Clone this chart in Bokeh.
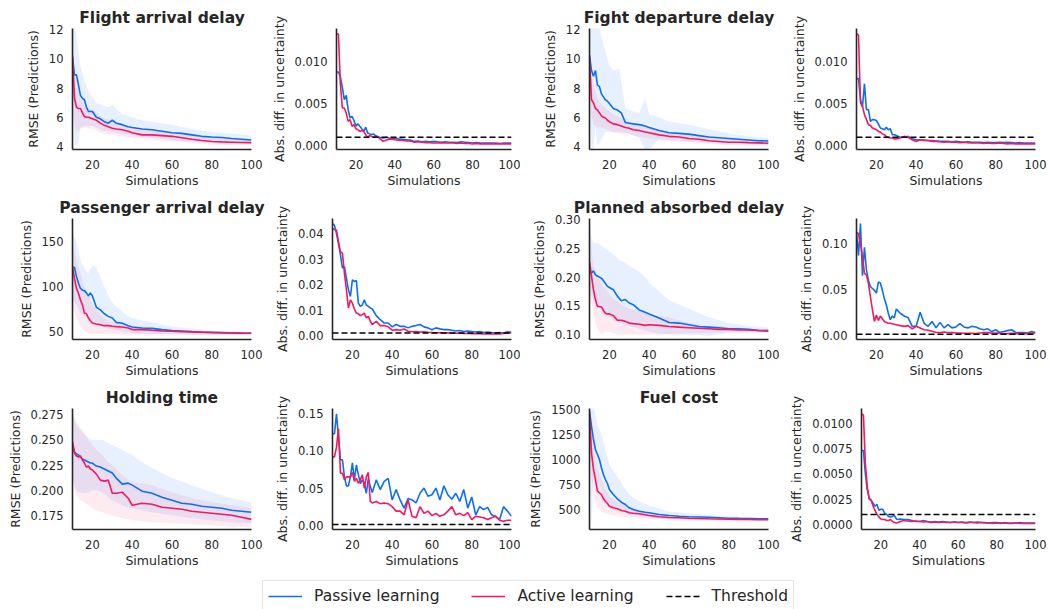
from bokeh.plotting import figure
from bokeh.layouts import column, row
from bokeh.models import Range1d, FixedTicker, NumeralTickFormatter, Span, Legend, LegendItem
from bokeh.embed import file_html
from bokeh.resources import INLINE

# ---------------- data ----------------
x_line = [10, 11, 12, 13, 14, 15, 16, 17, 18, 19, 20, 22, 24, 26, 28, 30, 32, 35, 38, 40, 45,
          50, 55, 60, 65, 70, 75, 80, 85, 90, 95, 100]
x_band = [10, 11, 12, 13, 14, 16, 18, 20, 22, 25, 28, 30, 35, 38, 40, 45, 50, 60, 70, 80, 90, 100]
x_unc = list(range(10, 31)) + list(range(32, 101, 2))
x_ticks = [20, 40, 60, 80, 100]
threshold = 0.001

titles = ["Flight arrival delay", "Fight departure delay", "Passenger arrival delay",
          "Planned absorbed delay", "Holding time", "Fuel cost"]
series_names = ["Passive learning", "Active learning", "Threshold"]

# Flight arrival delay
arr_p = [10.1, 8.9, 8.9, 8.2, 7.5, 7.3, 7.2, 6.7, 6.4, 6.4, 6.4,
         6.0, 5.9, 5.7, 5.6, 5.8, 5.6, 5.5, 5.35, 5.3, 5.2,
         5.15, 5.05, 4.95, 4.9, 4.8, 4.7, 4.65, 4.62, 4.55, 4.5, 4.45]
arr_a = [10.2, 7.3, 6.7, 6.6, 6.6, 6.3, 6.05, 6.0, 6.0, 5.95, 5.9,
         5.8, 5.6, 5.45, 5.35, 5.25, 5.2, 5.15, 5.05, 4.95, 4.8,
         4.8, 4.75, 4.7, 4.6, 4.5, 4.42, 4.35, 4.32, 4.3, 4.28, 4.27]
arr_p_lo = [8.0, 4.2, 4.0, 4.3, 5.3, 5.4, 5.4, 5.4, 5.3, 5.1, 5.05,
            5.0, 4.85, 4.8, 4.75, 4.65, 4.6, 4.45, 4.35, 4.3, 4.25, 4.2]
arr_p_hi = [13, 12.5, 11.5, 10.5, 9.5, 8.5, 7.8, 7.3, 7.0, 6.8, 6.7,
            6.85, 6.2, 6.1, 6.0, 5.8, 5.7, 5.5, 5.2, 5.0, 4.9, 4.75]
arr_a_lo = [9.0, 5.5, 5.0, 5.1, 5.2, 5.3, 5.25, 5.2, 5.1, 4.9, 4.85,
            4.8, 4.7, 4.65, 4.6, 4.5, 4.45, 4.35, 4.25, 4.15, 4.1, 4.1]
arr_a_hi = [10.5, 9.0, 8.0, 7.6, 7.3, 6.8, 6.6, 6.5, 6.3, 6.0, 5.8,
            5.7, 5.5, 5.35, 5.3, 5.2, 5.1, 4.95, 4.75, 4.6, 4.5, 4.45]
arr_unc_p = [0.0088, 0.0088, 0.0082, 0.0070, 0.0055, 0.0060, 0.0043, 0.0033, 0.0035, 0.0030, 0.0023,
             0.0026, 0.0023, 0.0020, 0.0017, 0.0022, 0.0015, 0.0014, 0.0013, 0.0014, 0.0012,
             0.0010, 0.0009, 0.0010, 0.0008, 0.0009,
             0.0008, 0.00075, 0.0007, 0.00065, 0.0005,
             0.00055, 0.00045, 0.0005, 0.00045, 0.0005,
             0.00045, 0.0004, 0.00045, 0.0004, 0.0004,
             0.00035, 0.00045, 0.0004, 0.00035, 0.0003,
             0.00035, 0.0003, 0.0003, 0.0003, 0.0003,
             0.0003, 0.00025, 0.0003, 0.0003, 0.0003]
arr_unc_a = [0.0134, 0.0133, 0.0074, 0.0045, 0.0045, 0.0039, 0.0029, 0.0031, 0.0023, 0.0025, 0.0020,
             0.0019, 0.0017, 0.0018, 0.0017, 0.0013, 0.0010, 0.0012, 0.0011, 0.0010, 0.0011,
             0.0009, 0.0005, 0.0007, 0.0008, 0.0007,
             0.00065, 0.0006, 0.00055, 0.00055, 0.0004,
             0.00045, 0.0004, 0.00035, 0.00035, 0.0003,
             0.0003, 0.00035, 0.0003, 0.0003, 0.0003,
             0.00025, 0.0003, 0.00025, 0.00025, 0.0002,
             0.00025, 0.0002, 0.0002, 0.0002, 0.0002,
             0.0002, 0.0002, 0.0002, 0.0002, 0.0002]

# Fight departure delay
dep_p = [10.25, 9.2, 8.8, 9.2, 8.2, 8.1, 7.6, 7.4, 7.2, 7.1, 6.95,
         6.6, 6.5, 6.3, 5.65, 5.6, 5.55, 5.5, 5.4, 5.3, 5.1,
         4.95, 4.9, 4.85, 4.75, 4.65, 4.6, 4.55, 4.5, 4.45, 4.4, 4.38]
dep_a = [10.1, 7.2, 7.0, 6.6, 6.5, 6.3, 6.1, 6.0, 5.95, 5.8, 5.7,
         5.55, 5.5, 5.4, 5.3, 5.25, 5.15, 5.1, 5.0, 4.95, 4.8,
         4.7, 4.65, 4.55, 4.5, 4.4, 4.35, 4.3, 4.3, 4.27, 4.25, 4.23]
dep_p_lo = [8.0, 3.8, 3.8, 5.5, 4.0, 4.5, 5.0, 5.0, 5.0, 5.0, 4.95,
            4.9, 4.6, 3.8, 3.8, 4.5, 4.45, 4.35, 4.3, 4.25, 4.2, 4.15]
dep_p_hi = [13, 13, 13, 13, 12.5, 11.5, 10.5, 9.5, 9.2, 9.3, 6.6,
            6.5, 6.3, 7.3, 6.2, 6.0, 5.7, 5.5, 5.2, 4.9, 4.7, 4.6]
dep_a_lo = [9.5, 6.0, 5.5, 5.4, 5.3, 5.3, 5.2, 5.1, 5.0, 4.9, 4.85,
            4.8, 4.65, 4.6, 4.55, 4.45, 4.4, 4.3, 4.2, 4.1, 4.05, 4.05]
dep_a_hi = [10.5, 9.0, 8.2, 7.7, 7.3, 6.9, 6.6, 6.4, 6.2, 6.0, 5.8,
            5.7, 5.5, 5.35, 5.3, 5.15, 5.0, 4.85, 4.7, 4.55, 4.5, 4.45]
dep_unc_p = [0.0080, 0.0080, 0.0055, 0.0046, 0.0074, 0.0043, 0.0043, 0.0029, 0.0031, 0.0031, 0.0030,
             0.0026, 0.0021, 0.0020, 0.0019, 0.0022, 0.0019, 0.0020, 0.0013, 0.0013, 0.0012,
             0.0010, 0.0010, 0.0011, 0.0008, 0.0007,
             0.0007, 0.00065, 0.0006, 0.0006, 0.00055,
             0.0005, 0.0005, 0.0005, 0.00045, 0.0005,
             0.00045, 0.0004, 0.00045, 0.0004, 0.0004,
             0.0004, 0.00035, 0.0004, 0.00035, 0.00035,
             0.0004, 0.00035, 0.0004, 0.00035, 0.0003,
             0.00035, 0.0003, 0.0003, 0.0003, 0.0003]
dep_unc_a = [0.0134, 0.0132, 0.0051, 0.0047, 0.0037, 0.0031, 0.0025, 0.0024, 0.0021, 0.0020, 0.0019,
             0.0017, 0.0016, 0.0014, 0.0013, 0.0011, 0.0010, 0.0009, 0.0009, 0.0008, 0.0008,
             0.0009, 0.0011, 0.0010, 0.0007, 0.0005,
             0.0007, 0.0006, 0.0006, 0.0005, 0.0005,
             0.00045, 0.0004, 0.00045, 0.0004, 0.0004,
             0.00035, 0.0004, 0.00035, 0.0003, 0.0003,
             0.0003, 0.00025, 0.0003, 0.00025, 0.00025,
             0.0003, 0.00025, 0.0002, 0.00025, 0.0002,
             0.0002, 0.0002, 0.0002, 0.0002, 0.0002]

# Passenger arrival delay
pax_p = [122, 121.5, 111, 103.7, 98, 96, 95.5, 93, 89.6, 93, 89.6,
         77, 74, 69.6, 66.7, 64.8, 60, 59, 56.3, 54.8, 53.7,
         53.3, 51.9, 50.7, 50.4, 49.6, 49.2, 48.9, 48.5, 48.1, 47.9, 47.8]
pax_a = [122, 109, 98, 92.6, 85, 79.6, 70.4, 69.6, 64.8, 61.9, 59.3,
         58.1, 57.4, 56.3, 56.3, 55.6, 55.2, 54.8, 53.7, 51.9, 51.9,
         51.1, 50.4, 50.0, 49.6, 49.3, 48.9, 48.5, 48.3, 48.1, 47.9, 47.8]
pax_p_lo = [85, 83, 80, 75, 70, 68, 65, 62, 60, 55, 53,
            52, 50, 49, 48, 47.5, 47, 47, 46.5, 46.5, 46, 46]
pax_p_hi = [160, 155, 150, 140, 130, 120, 115, 124, 122, 105, 90,
            82, 72, 67, 65, 62, 60, 55, 53, 51, 50, 49]
pax_a_lo = [80, 72, 65, 60, 55, 50, 48, 47, 47, 47, 47,
            47, 46.5, 46.5, 46.5, 46.5, 46.5, 46.5, 46, 46, 46, 46]
pax_a_hi = [150, 140, 130, 122, 115, 100, 90, 80, 74, 66, 62,
            60, 58, 56, 55, 54, 53, 52, 51, 50, 49.5, 49]
pax_unc_p = [0.0439, 0.0432, 0.040, 0.036, 0.0316, 0.0264, 0.027, 0.0225, 0.018, 0.0153, 0.0218,
             0.0212, 0.0216, 0.0127, 0.0114, 0.012, 0.014, 0.012, 0.0114, 0.0108, 0.0104,
             0.0078, 0.0062, 0.0049, 0.0049, 0.0034,
             0.0043, 0.0036, 0.0036, 0.003, 0.0036,
             0.0039, 0.0043, 0.0034, 0.003, 0.0023,
             0.003, 0.0026, 0.0023, 0.0023, 0.0021,
             0.0018, 0.002, 0.0016, 0.0018, 0.0016,
             0.0014, 0.0016, 0.0012, 0.0014, 0.0012,
             0.0011, 0.0012, 0.001, 0.0015, 0.0013]
pax_unc_a = [0.042, 0.0416, 0.0413, 0.0368, 0.0329, 0.0322, 0.0244, 0.018, 0.0108, 0.014, 0.0127,
             0.0104, 0.0088, 0.0085, 0.0078, 0.0082, 0.0088, 0.0069, 0.0075, 0.0056, 0.0043,
             0.0056, 0.0039, 0.0039, 0.0034, 0.0021,
             0.0023, 0.0021, 0.0026, 0.0017, 0.0015,
             0.0016, 0.0014, 0.0015, 0.0013, 0.0012,
             0.0011, 0.0012, 0.001, 0.0011, 0.001,
             0.0009, 0.001, 0.0008, 0.0009, 0.0007,
             0.0008, 0.0007, 0.0006, 0.0007, 0.0006,
             0.0007, 0.0006, 0.0008, 0.001, 0.001]

# Planned absorbed delay
pad_p = [0.212, 0.207, 0.211, 0.204, 0.202, 0.200, 0.198, 0.194, 0.189, 0.184, 0.182,
         0.178, 0.167, 0.159, 0.161, 0.155, 0.152, 0.143, 0.139, 0.136, 0.129,
         0.121, 0.120, 0.117, 0.114, 0.113, 0.112, 0.110, 0.110, 0.109, 0.107, 0.106]
pad_a = [0.227, 0.202, 0.178, 0.161, 0.149, 0.149, 0.148, 0.142, 0.137, 0.136, 0.136,
         0.133, 0.125, 0.125, 0.123, 0.120, 0.119, 0.118, 0.116, 0.117, 0.116,
         0.114, 0.113, 0.112, 0.111, 0.110, 0.109, 0.109, 0.108, 0.108, 0.107, 0.107]
pad_p_lo = [0.19, 0.17, 0.16, 0.155, 0.15, 0.145, 0.14, 0.13, 0.125, 0.12, 0.117,
            0.115, 0.11, 0.107, 0.105, 0.102, 0.1, 0.1, 0.098, 0.103, 0.104, 0.103]
pad_p_hi = [0.30, 0.27, 0.26, 0.26, 0.26, 0.255, 0.25, 0.245, 0.24, 0.23, 0.225,
            0.22, 0.21, 0.2, 0.19, 0.175, 0.16, 0.145, 0.13, 0.12, 0.115, 0.112]
pad_a_lo = [0.17, 0.155, 0.14, 0.12, 0.11, 0.10, 0.105, 0.105, 0.102, 0.1, 0.1,
            0.1, 0.1, 0.1, 0.1, 0.1, 0.101, 0.102, 0.103, 0.104, 0.104, 0.104]
pad_a_hi = [0.28, 0.25, 0.22, 0.21, 0.2, 0.19, 0.18, 0.17, 0.162, 0.155, 0.148,
            0.145, 0.14, 0.137, 0.135, 0.132, 0.13, 0.12, 0.115, 0.113, 0.111, 0.11]
pad_unc_p = [0.1126, 0.087, 0.122, 0.065, 0.096, 0.071, 0.060, 0.053, 0.051, 0.049, 0.046,
             0.058, 0.057, 0.049, 0.040, 0.033, 0.024, 0.017, 0.021, 0.019, 0.0285,
             0.024, 0.021, 0.019, 0.0097, 0.0097,
             0.025, 0.013, 0.0097, 0.015, 0.008,
             0.014, 0.008, 0.0115, 0.008, 0.009,
             0.0126, 0.009, 0.008, 0.0097, 0.009,
             0.007, 0.006, 0.007, 0.004, 0.006,
             0.003, 0.004, 0.005, 0.006, 0.003,
             0.003, 0.003, 0.0025, 0.004, 0.003]
pad_unc_a = [0.1126, 0.111, 0.100, 0.0856, 0.0675, 0.0657, 0.0567, 0.042, 0.028, 0.015, 0.022,
             0.016, 0.021, 0.018, 0.015, 0.014, 0.013, 0.013, 0.0126, 0.012, 0.0115,
             0.0105, 0.0097, 0.0105, 0.007, 0.0097,
             0.008, 0.006, 0.0054, 0.0043, 0.003,
             0.003, 0.0035, 0.003, 0.0028, 0.0025,
             0.0025, 0.0022, 0.002, 0.002, 0.0018,
             0.0025, 0.003, 0.0028, 0.0025, 0.0025,
             0.002, 0.0018, 0.0018, 0.002, 0.0018,
             0.0018, 0.0018, 0.0018, 0.0025, 0.0025]

# Holding time
hold_p = [0.245, 0.238, 0.236, 0.235, 0.233, 0.231, 0.230, 0.229, 0.228, 0.227, 0.227,
          0.224, 0.223, 0.221, 0.219, 0.217, 0.212, 0.206, 0.207, 0.205, 0.199,
          0.197, 0.193, 0.190, 0.187, 0.186, 0.184, 0.183, 0.182, 0.180, 0.179, 0.178]
hold_a = [0.248, 0.237, 0.234, 0.233, 0.234, 0.230, 0.227, 0.223, 0.224, 0.221, 0.220,
          0.216, 0.210, 0.209, 0.210, 0.197, 0.197, 0.198, 0.192, 0.185, 0.187,
          0.186, 0.183, 0.182, 0.181, 0.179, 0.178, 0.177, 0.176, 0.175, 0.173, 0.171]
hold_p_lo = [0.215, 0.205, 0.2, 0.198, 0.198, 0.197, 0.198, 0.2, 0.2, 0.198, 0.193,
             0.19, 0.185, 0.183, 0.182, 0.18, 0.178, 0.175, 0.172, 0.17, 0.168, 0.167]
hold_p_hi = [0.28, 0.27, 0.265, 0.262, 0.26, 0.255, 0.252, 0.25, 0.25, 0.25, 0.247,
             0.245, 0.24, 0.237, 0.235, 0.228, 0.222, 0.212, 0.205, 0.198, 0.192, 0.188]
hold_a_lo = [0.215, 0.2, 0.195, 0.192, 0.19, 0.188, 0.185, 0.182, 0.18, 0.178, 0.176,
             0.175, 0.172, 0.171, 0.17, 0.169, 0.168, 0.167, 0.166, 0.165, 0.164, 0.163]
hold_a_hi = [0.278, 0.272, 0.268, 0.265, 0.262, 0.257, 0.25, 0.245, 0.24, 0.235, 0.228,
             0.225, 0.215, 0.21, 0.208, 0.207, 0.205, 0.198, 0.192, 0.188, 0.185, 0.182]
hold_unc_p = [0.123, 0.123, 0.150, 0.119, 0.088, 0.088, 0.065, 0.053, 0.053, 0.065, 0.084,
              0.061, 0.081, 0.068, 0.056, 0.061, 0.0565, 0.043, 0.063, 0.052, 0.044,
              0.061, 0.048, 0.059, 0.063, 0.034,
              0.048, 0.034, 0.023, 0.036, 0.034,
              0.030, 0.043, 0.050, 0.039, 0.041,
              0.050, 0.034, 0.053, 0.041, 0.035,
              0.043, 0.032, 0.048, 0.023, 0.038,
              0.014, 0.025, 0.021, 0.024, 0.014,
              0.012, 0.0076, 0.025, 0.019, 0.012]
hold_unc_a = [0.092, 0.092, 0.105, 0.130, 0.070, 0.070, 0.061, 0.065, 0.065, 0.065, 0.071,
              0.059, 0.063, 0.0565, 0.061, 0.068, 0.050, 0.065, 0.071, 0.032, 0.030,
              0.032, 0.029, 0.030, 0.029, 0.025,
              0.019, 0.019, 0.014, 0.034, 0.012,
              0.010, 0.025, 0.016, 0.019, 0.013,
              0.016, 0.012, 0.014, 0.019, 0.025,
              0.014, 0.016, 0.013, 0.017, 0.0076,
              0.012, 0.011, 0.010, 0.0076, 0.010,
              0.012, 0.0067, 0.0053, 0.0067, 0.0067]

# Fuel cost
fuel_p = [1483, 1333, 1200, 1100, 1050, 1000, 917, 850, 800, 760, 700,
          650, 607, 573, 550, 517, 500, 483, 473, 467, 450,
          440, 433, 427, 425, 423, 418, 413, 411, 410, 408, 407]
fuel_a = [1467, 1067, 900, 800, 683, 667, 650, 607, 583, 560, 533,
          517, 507, 490, 483, 467, 462, 457, 447, 440, 427,
          420, 417, 413, 410, 407, 405, 403, 401, 400, 398, 397]
fuel_p_lo = [1300, 300, 900, 850, 800, 700, 600, 550, 530, 500, 470,
             450, 435, 425, 420, 410, 405, 400, 395, 395, 395, 395]
fuel_p_hi = [1520, 1520, 1520, 1450, 1350, 1250, 1100, 950, 880, 800, 700,
             650, 580, 555, 540, 510, 480, 460, 445, 430, 425, 420]
fuel_a_lo = [1200, 850, 650, 580, 520, 480, 460, 450, 440, 430, 425,
             420, 412, 408, 405, 402, 400, 395, 390, 388, 387, 385]
fuel_a_hi = [1500, 1300, 1150, 1000, 900, 800, 700, 630, 600, 560, 535,
             520, 490, 478, 470, 455, 445, 430, 420, 415, 410, 408]
fuel_unc_p = [0.0073, 0.0073, 0.0050, 0.0034, 0.0026, 0.0024, 0.0021, 0.0018, 0.0020, 0.0014, 0.0015,
              0.0015, 0.0011, 0.0010, 0.0008, 0.00075, 0.0008, 0.0009, 0.00055, 0.0005, 0.00055,
              0.0005, 0.0005, 0.0004, 0.0003, 0.0003,
              0.0004, 0.0003, 0.00025, 0.0003, 0.00025,
              0.0003, 0.00025, 0.0002, 0.00025, 0.0002,
              0.00025, 0.0002, 0.00025, 0.0002, 0.00025,
              0.0002, 0.0002, 0.00015, 0.0002, 0.0002,
              0.00015, 0.0002, 0.00015, 0.00015, 0.00015,
              0.0002, 0.00015, 0.00015, 0.00015, 0.00015]
fuel_unc_a = [0.0109, 0.0108, 0.0060, 0.0037, 0.0025, 0.0024, 0.0018, 0.0014, 0.0010, 0.00075, 0.00055,
              0.0005, 0.0005, 0.0004, 0.0004, 0.0005, 0.0003, 0.0002, 0.00015, 0.0002, 0.0003,
              0.0004, 0.00035, 0.0003, 0.00035, 0.0003,
              0.00025, 0.0003, 0.0002, 0.00025, 0.0002,
              0.00025, 0.0002, 0.0002, 0.00025, 0.0002,
              0.0002, 0.00015, 0.0002, 0.0002, 0.00015,
              0.0002, 0.00015, 0.00015, 0.0001, 0.00015,
              0.0001, 0.00015, 0.0001, 0.0001, 0.00015,
              0.0001, 0.0001, 0.0001, 0.0001, 0.0001]

# ---------------- style ----------------
BLUE = "#0b6ff2"
PINK = "#f7165f"
TXT = "#262626"
FONT = "DejaVu Sans"
COL_W = [268, 252, 266, 263]
COL_L = [72, 64, 69, 70]
FRAME_W = 179
ROW_H = 190


def make_fig(col, yr, yticks, yfmt, ylabel, title=None):
    w = COL_W[col]
    lb = COL_L[col]
    p = figure(width=w, height=ROW_H, x_range=Range1d(10, 100), y_range=Range1d(*yr),
               output_backend="svg", toolbar_location=None,
               min_border_left=lb, min_border_right=w - lb - FRAME_W,
               min_border_top=28, min_border_bottom=40)
    if title:
        p.title.text = title
        p.title.align = "center"
        p.title.text_font = FONT
        p.title.text_font_size = "15.5px"
        p.title.text_font_style = "bold"
        p.title.text_color = TXT
        p.title.standoff = 4
    p.outline_line_color = None
    p.xgrid.visible = False
    p.ygrid.visible = False
    p.background_fill_color = "white"
    p.border_fill_color = "white"
    p.xaxis.ticker = FixedTicker(ticks=x_ticks)
    p.yaxis.ticker = FixedTicker(ticks=yticks)
    p.yaxis.formatter = NumeralTickFormatter(format=yfmt)
    p.xaxis.axis_label = "Simulations"
    p.yaxis.axis_label = ylabel
    for ax in (p.xaxis[0], p.yaxis[0]):
        ax.major_tick_line_color = None
        ax.minor_tick_line_color = None
        ax.major_tick_out = 0
        ax.major_tick_in = 0
        ax.axis_line_color = TXT
        ax.axis_line_width = 1.6
        ax.major_label_text_font = FONT
        ax.major_label_text_font_size = "11.5px"
        ax.major_label_text_color = TXT
        ax.axis_label_text_font = FONT
        ax.axis_label_text_font_size = "12.5px"
        ax.axis_label_text_font_style = "normal"
        ax.axis_label_text_color = TXT
    p.xaxis.major_label_standoff = 10
    p.xaxis.axis_label_standoff = 1
    p.yaxis.major_label_standoff = 9
    p.yaxis.axis_label_standoff = 5
    return p


def rmse_fig(col, title, yr, yticks, yfmt, mp, ma, plo, phi, alo, ahi):
    p = make_fig(col, yr, yticks, yfmt, "RMSE (Predictions)", title)
    p.varea(x=x_band, y1=plo, y2=phi, fill_color=BLUE, fill_alpha=0.1)
    p.varea(x=x_band, y1=alo, y2=ahi, fill_color=PINK, fill_alpha=0.09)
    p.line(x_line, mp, line_color=BLUE, line_width=1.6)
    p.line(x_line, ma, line_color=PINK, line_width=1.6)
    return p


def unc_fig(col, yr, yticks, yfmt, up, ua):
    p = make_fig(col, yr, yticks, yfmt, "Abs. diff. in uncertainty")
    p.line(x_unc, up, line_color=BLUE, line_width=1.6)
    p.line(x_unc, ua, line_color=PINK, line_width=1.6)
    p.add_layout(Span(location=threshold, dimension="width", line_color="black",
                      line_dash="6 3", line_width=1.5))
    return p


r1 = row(
    rmse_fig(0, titles[0], (3.8, 12.07), [4, 6, 8, 10, 12], "0",
             arr_p, arr_a, arr_p_lo, arr_p_hi, arr_a_lo, arr_a_hi),
    unc_fig(1, (-0.00047, 0.0140), [0, 0.005, 0.01], "0.000", arr_unc_p, arr_unc_a),
    rmse_fig(2, titles[1], (3.8, 12.07), [4, 6, 8, 10, 12], "0",
             dep_p, dep_a, dep_p_lo, dep_p_hi, dep_a_lo, dep_a_hi),
    unc_fig(3, (-0.00047, 0.0140), [0, 0.005, 0.01], "0.000", dep_unc_p, dep_unc_a),
)
r2 = row(
    rmse_fig(0, titles[2], (40.8, 176.3), [50, 100, 150], "0",
             pax_p, pax_a, pax_p_lo, pax_p_hi, pax_a_lo, pax_a_hi),
    unc_fig(1, (-0.00156, 0.0459), [0, 0.01, 0.02, 0.03, 0.04], "0.00", pax_unc_p, pax_unc_a),
    rmse_fig(2, titles[3], (0.0914, 0.3022), [0.10, 0.15, 0.20, 0.25, 0.30], "0.00",
             pad_p, pad_a, pad_p_lo, pad_p_hi, pad_a_lo, pad_a_hi),
    unc_fig(3, (-0.00466, 0.1274), [0, 0.05, 0.10], "0.00", pad_unc_p, pad_unc_a),
)
r3 = row(
    rmse_fig(0, titles[4], (0.1609, 0.2812), [0.175, 0.2, 0.225, 0.25, 0.275], "0.000",
             hold_p, hold_a, hold_p_lo, hold_p_hi, hold_a_lo, hold_a_hi),
    unc_fig(1, (-0.00573, 0.157), [0, 0.05, 0.10, 0.15], "0.00", hold_unc_p, hold_unc_a),
    rmse_fig(2, titles[5], (300, 1510), [500, 750, 1000, 1250, 1500], "0",
             fuel_p, fuel_a, fuel_p_lo, fuel_p_hi, fuel_a_lo, fuel_a_hi),
    unc_fig(3, (-0.00049, 0.01144), [0, 0.0025, 0.005, 0.0075, 0.01], "0.0000", fuel_unc_p, fuel_unc_a),
)

# legend strip
lg = figure(width=1049, height=39, x_range=Range1d(0, 1), y_range=Range1d(0, 1),
            output_backend="svg", toolbar_location=None, min_border=0)
lg.axis.visible = False
lg.xgrid.visible = False
lg.ygrid.visible = False
lg.outline_line_color = None
g1 = lg.line([-2, -1], [-2, -1], line_color=BLUE, line_width=1.6)
g2 = lg.line([-2, -1], [-2, -1], line_color=PINK, line_width=1.6)
g3 = lg.line([-2, -1], [-2, -1], line_color="black", line_width=1.5, line_dash="6 3")
legend = Legend(items=[LegendItem(label=series_names[0], renderers=[g1]),
                       LegendItem(label=series_names[1], renderers=[g2]),
                       LegendItem(label=series_names[2], renderers=[g3])],
                orientation="horizontal", location=(262, -3), margin=0,
                padding=5, spacing=32, glyph_width=34, glyph_height=20,
                label_height=20, label_standoff=12,
                label_text_font=FONT, label_text_font_size="15.5px", label_text_color=TXT,
                border_line_color="#cccccc", border_line_width=1,
                background_fill_color="white", background_fill_alpha=1.0)
lg.add_layout(legend, "center")

layout = column(r1, r2, r3, lg)
open("out.html", "w").write(file_html(layout, INLINE))
